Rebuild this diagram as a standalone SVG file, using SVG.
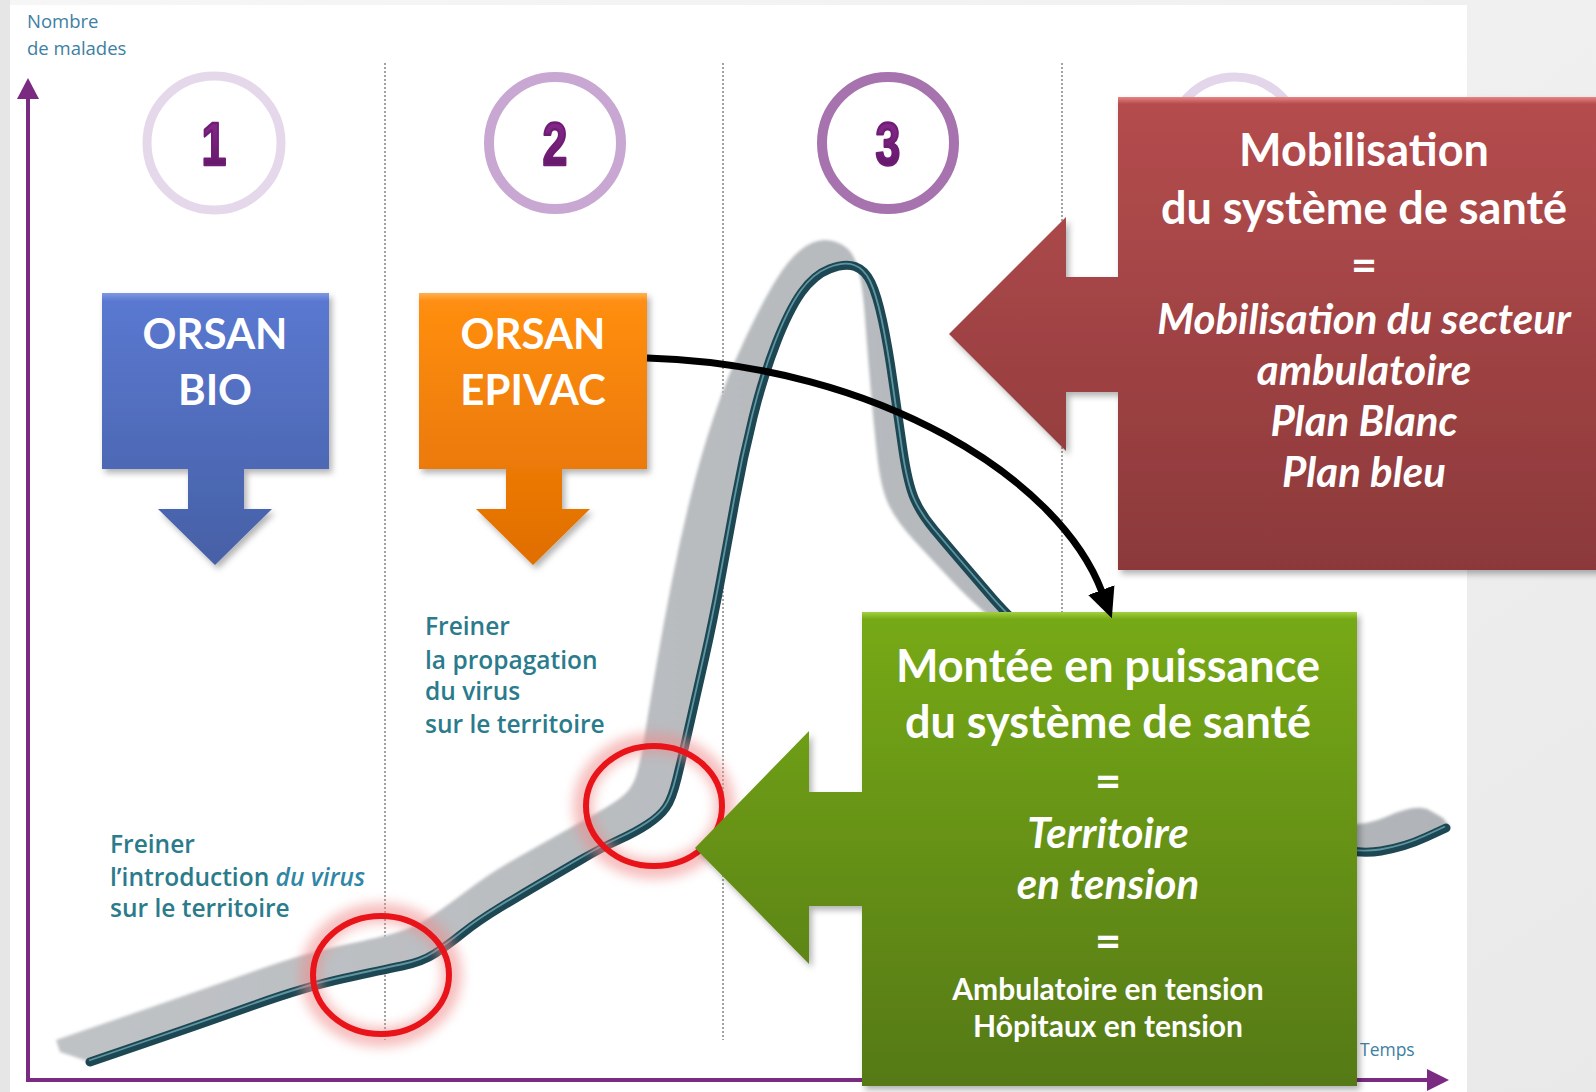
<svg xmlns="http://www.w3.org/2000/svg" width="1596" height="1092" viewBox="0 0 1596 1092">
<style>
.lbl{font-family:"Open Sans","Liberation Sans",sans-serif;font-weight:600;font-size:24.5px;fill:#2a7b8c}
.axl{font-family:"Open Sans","Liberation Sans",sans-serif;font-size:18.5px;fill:#3d80a3}
.num{font-family:"Liberation Sans",Arial,sans-serif;font-weight:bold;font-size:62px;stroke-width:2.5;stroke-linejoin:round}
.bt{font-family:Lato,"Open Sans",sans-serif;font-weight:bold;fill:#ffffff;text-anchor:middle}
.it{font-style:italic}
.dot{stroke:#8c8c8c;stroke-width:1.6;stroke-dasharray:2 2;fill:none}
.ax{stroke:#7a2a80;stroke-width:4;fill:none}
.rc{fill:none;stroke:#e8141a;stroke-width:6}
.rg{fill:none;stroke:#f08a8a;stroke-width:20;opacity:0.55}
</style>
<defs>
<linearGradient id="bgR" x1="0" y1="0" x2="1" y2="1"><stop offset="0" stop-color="#f6f6f6"/><stop offset="1" stop-color="#e9e9e9"/></linearGradient>
<linearGradient id="gBlue" x1="0" y1="0" x2="0" y2="1"><stop offset="0" stop-color="#7f98e2"/><stop offset="0.03" stop-color="#5a78d0"/><stop offset="1" stop-color="#4660a6"/></linearGradient>
<linearGradient id="gOr" x1="0" y1="0" x2="0" y2="1"><stop offset="0" stop-color="#ffb050"/><stop offset="0.03" stop-color="#ff8e12"/><stop offset="1" stop-color="#e06e00"/></linearGradient>
<linearGradient id="gRed" x1="0" y1="0" x2="0" y2="1"><stop offset="0" stop-color="#e88484"/><stop offset="0.015" stop-color="#b44c4d"/><stop offset="1" stop-color="#8c393b"/></linearGradient>
<linearGradient id="gGr" x1="0" y1="0" x2="0" y2="1"><stop offset="0" stop-color="#a2d040"/><stop offset="0.015" stop-color="#76a917"/><stop offset="1" stop-color="#557912"/></linearGradient>
<linearGradient id="gRib" x1="0" y1="0" x2="1" y2="0"><stop offset="0" stop-color="#bfc2c5"/><stop offset="1" stop-color="#b0b4b8"/></linearGradient>
<linearGradient id="gNum" x1="0" y1="0" x2="0" y2="1"><stop offset="0" stop-color="#8e2d94"/><stop offset="1" stop-color="#5c1462"/></linearGradient>
<filter id="blur1" x="-5%" y="-5%" width="110%" height="110%"><feGaussianBlur stdDeviation="1.5"/></filter>
<filter id="blur0" x="-5%" y="-5%" width="110%" height="110%"><feGaussianBlur stdDeviation="0.6"/></filter>
<filter id="glow" x="-30%" y="-30%" width="160%" height="160%"><feGaussianBlur stdDeviation="6"/></filter>
<filter id="shd" x="-10%" y="-10%" width="125%" height="125%"><feDropShadow dx="3" dy="4" stdDeviation="3" flood-color="#000" flood-opacity="0.3"/></filter>
<marker id="ah" viewBox="0 0 30 28" refX="2" refY="14" markerWidth="30" markerHeight="28" markerUnits="userSpaceOnUse" orient="auto"><path d="M0,0 L30,14 L0,28 Z" fill="#000"/></marker>
<path id="teal" d="M90,1062 L147,1042.5 Q204,1023 254.5,1005 Q305,987 343.5,978.5 Q382,970 402,966 Q422,962 435,953.5 Q448,945 463,933 Q478,921 498.5,908.5 Q519,896 539.5,884 Q560,872 580.5,860 Q601,848 618.5,840 Q636,832 648,824 Q660,816 666,807.5 Q672,799 677,778.5 Q682,758 689.5,725 Q697,692 705,656.5 Q713,621 720.5,580.5 Q728,540 735.5,499 Q743,458 753,417.5 Q763,377 776,343.5 Q789,310 801.5,292.5 Q814,275 829.5,269 Q845,263 855,266.5 Q865,270 871,282.5 Q877,295 882.5,320.5 Q888,346 893,381.5 Q898,417 903,450.5 Q908,484 914.5,499 Q921,514 934,529.5 Q947,545 962,562.5 Q977,580 992.5,598 Q1008,616 1038.5,644 Q1069,672 1120,723 Q1171,774 1222,804.5 Q1273,835 1315,845 Q1357,855 1381,851 Q1405,847 1426.5,837 L1446,828"/>
</defs>

<!-- background -->
<rect x="0" y="0" width="1596" height="1092" fill="url(#bgR)"/>
<rect x="0" y="0" width="10" height="1092" fill="#e6e6e6"/>
<rect x="10" y="5" width="1457" height="1087" fill="#ffffff"/>

<!-- phase separators -->
<g id="separators">
<line class="dot" x1="385" y1="63" x2="385" y2="1040"/>
<line class="dot" x1="723" y1="63" x2="723" y2="1040"/>
<line class="dot" x1="1062" y1="63" x2="1062" y2="1040"/>
</g>

<!-- axes -->
<g id="axes">
<line class="ax" x1="28" y1="96" x2="28" y2="1080"/>
<polygon points="28,78 17,99 39,99" fill="#7a2a80"/>
<line class="ax" x1="26" y1="1080" x2="1430" y2="1080"/>
<polygon points="1449,1080 1427,1069 1427,1091" fill="#7a2a80"/>
<text class="axl" x="27" y="28">Nombre</text>
<text class="axl" x="27" y="55">de malades</text>
<text class="axl" x="1360" y="1056" style="font-size:17.5px">Temps</text>
</g>

<!-- phase circles -->
<g id="phase1">
<circle cx="214" cy="143" r="67" fill="none" stroke="#e5d8eb" stroke-width="9"/>
<text class="num" transform="translate(214,165) scale(0.72,1)" text-anchor="middle" fill="url(#gNum)" stroke="#6e1c74">1</text>
</g>
<g id="phase2">
<circle cx="555" cy="143" r="66" fill="none" stroke="#c9a7d3" stroke-width="10"/>
<text class="num" transform="translate(555,165) scale(0.72,1)" text-anchor="middle" fill="url(#gNum)" stroke="#6e1c74">2</text>
</g>
<g id="phase3">
<circle cx="888" cy="143" r="66" fill="none" stroke="#a673ae" stroke-width="10"/>
<text class="num" transform="translate(888,165) scale(0.72,1)" text-anchor="middle" fill="url(#gNum)" stroke="#6e1c74">3</text>
</g>
<g id="phase4">
<circle cx="1235" cy="143" r="66" fill="none" stroke="#e3d5ea" stroke-width="9"/>
</g>

<!-- epidemic curve -->
<g id="curve">
<path filter="url(#blur1)" fill="url(#gRib)" d="M56,1040 L130,1014.5 Q204,989 254.5,971 Q305,953 343.5,945 Q382,937 399.5,931.5 Q417,926 432.5,915.5 Q448,905 468.5,889.5 Q489,874 509,862.5 Q529,851 549.5,839.5 Q570,828 590.5,816.5 Q611,805 621,797.5 Q631,790 635.5,777.5 Q640,765 645,733.5 Q650,702 657,661.5 Q664,621 672,580.5 Q680,540 690,499 Q700,458 713.5,417.5 Q727,377 744.5,340 Q762,303 775,281.5 Q788,260 800.5,250 Q813,240 824.5,240 Q836,240 845.5,247 Q855,254 859,272 Q863,290 865,318 Q867,346 870.5,387 Q874,428 877.5,458.5 Q881,489 889,505.5 Q897,522 915.5,542 Q934,562 952,581 Q970,600 985,612.5 Q1000,625 1034.5,638.5 Q1069,652 1120,702 Q1171,752 1222,782 Q1273,812 1315,821 Q1357,830 1387,816.5 Q1417,803 1430,810.5 L1443,818 L1450,827 L1426.5,837 Q1405,847 1381,851 Q1357,855 1315,845 Q1273,835 1222,804.5 Q1171,774 1120,723 Q1069,672 1038.5,644 Q1008,616 992.5,598 Q977,580 962,562.5 Q947,545 934,529.5 Q921,514 914.5,499 Q908,484 903,450.5 Q898,417 893,381.5 Q888,346 882.5,320.5 Q877,295 871,282.5 Q865,270 855,266.5 Q845,263 829.5,269 Q814,275 801.5,292.5 Q789,310 776,343.5 Q763,377 753,417.5 Q743,458 735.5,499 Q728,540 720.5,580.5 Q713,621 705,656.5 Q697,692 689.5,725 Q682,758 677,778.5 Q672,799 666,807.5 Q660,816 648,824 Q636,832 618.5,840 Q601,848 580.5,860 Q560,872 539.5,884 Q519,896 498.5,908.5 Q478,921 463,933 Q448,945 435,953.5 Q422,962 402,966 Q382,970 343.5,978.5 Q305,987 254.5,1005 Q204,1023 147,1042.5 L90,1062 L60,1052 Z"/>
<use href="#teal" filter="url(#blur0)" fill="none" stroke="#1f4753" stroke-width="9" stroke-linejoin="round" stroke-linecap="round"/>
<use href="#teal" fill="none" stroke="#5d95a1" stroke-width="1.8" stroke-linejoin="round" transform="translate(-1,-1.5)"/>
</g>

<!-- phase descriptions -->
<g id="label1">
<text class="lbl" x="110" y="853">Freiner</text>
<text class="lbl" x="110" y="886">l’introduction <tspan class="it" style="fill:#2f86a6">du virus</tspan></text>
<text class="lbl" x="110" y="917">sur le territoire</text>
</g>
<g id="label2">
<text class="lbl" x="425" y="635">Freiner</text>
<text class="lbl" x="425" y="669">la propagation</text>
<text class="lbl" x="425" y="700">du virus</text>
<text class="lbl" x="425" y="733">sur le territoire</text>
</g>

<!-- red highlight circles -->
<g id="highlight1">
<ellipse class="rg" cx="381" cy="975" rx="71" ry="62" filter="url(#glow)"/>
<ellipse class="rc" cx="381" cy="975" rx="68" ry="59"/>
</g>
<g id="highlight2">
<ellipse class="rg" cx="654" cy="806" rx="71" ry="63" filter="url(#glow)"/>
<ellipse class="rc" cx="654" cy="806" rx="68" ry="60"/>
</g>

<!-- ORSAN BIO -->
<g id="orsan-bio">
<path filter="url(#shd)" fill="url(#gBlue)" d="M102,293 H329 V469 H244 V509 H272 L215,565 L158,509 H188 V469 H102 Z"/>
<text class="bt" x="215" y="349" font-size="42">ORSAN</text>
<text class="bt" x="215" y="405" font-size="42">BIO</text>
</g>

<!-- ORSAN EPIVAC -->
<g id="orsan-epivac">
<path filter="url(#shd)" fill="url(#gOr)" d="M419,293 H647 V469 H562 V509 H590 L533,565 L476,509 H506 V469 H419 Z"/>
<text class="bt" x="533" y="349" font-size="42">ORSAN</text>
<text class="bt" x="533" y="405" font-size="42">EPIVAC</text>
</g>

<!-- Mobilisation -->
<g id="mobilisation">
<path filter="url(#shd)" fill="url(#gRed)" d="M1118,97 H1600 V570 H1118 V392 H1066 V451 L949,334 L1066,217 V277 H1118 Z"/>
<text class="bt" x="1364" y="166" font-size="45">Mobilisation</text>
<text class="bt" x="1364" y="224" font-size="45">du système de santé</text>
<text class="bt" x="1364" y="281" font-size="45">=</text>
<text class="bt it" x="1364" y="334" font-size="42">Mobilisation du secteur</text>
<text class="bt it" x="1364" y="385" font-size="42">ambulatoire</text>
<text class="bt it" x="1364" y="436" font-size="42">Plan Blanc</text>
<text class="bt it" x="1364" y="487" font-size="42">Plan bleu</text>
</g>

<!-- Montée en puissance -->
<g id="montee">
<path filter="url(#shd)" fill="url(#gGr)" d="M862,612 H1357 V1086 H862 V906 H809 V964 L695,848 L809,731 V792 H862 Z"/>
<text class="bt" x="1108" y="682" font-size="45">Montée en puissance</text>
<text class="bt" x="1108" y="738" font-size="45">du système de santé</text>
<text class="bt" x="1108" y="797" font-size="45">=</text>
<text class="bt it" x="1108" y="848" font-size="42">Territoire</text>
<text class="bt it" x="1108" y="899" font-size="42">en tension</text>
<text class="bt" x="1108" y="957" font-size="45">=</text>
<text class="bt" x="1108" y="1000" font-size="30">Ambulatoire en tension</text>
<text class="bt" x="1108" y="1037" font-size="30">Hôpitaux en tension</text>
</g>

<!-- connectors -->
<g id="connectors">
<path d="M647,358 C880,365 1060,480 1102,592" fill="none" stroke="#000" stroke-width="7" marker-end="url(#ah)"/>
</g>
</svg>
